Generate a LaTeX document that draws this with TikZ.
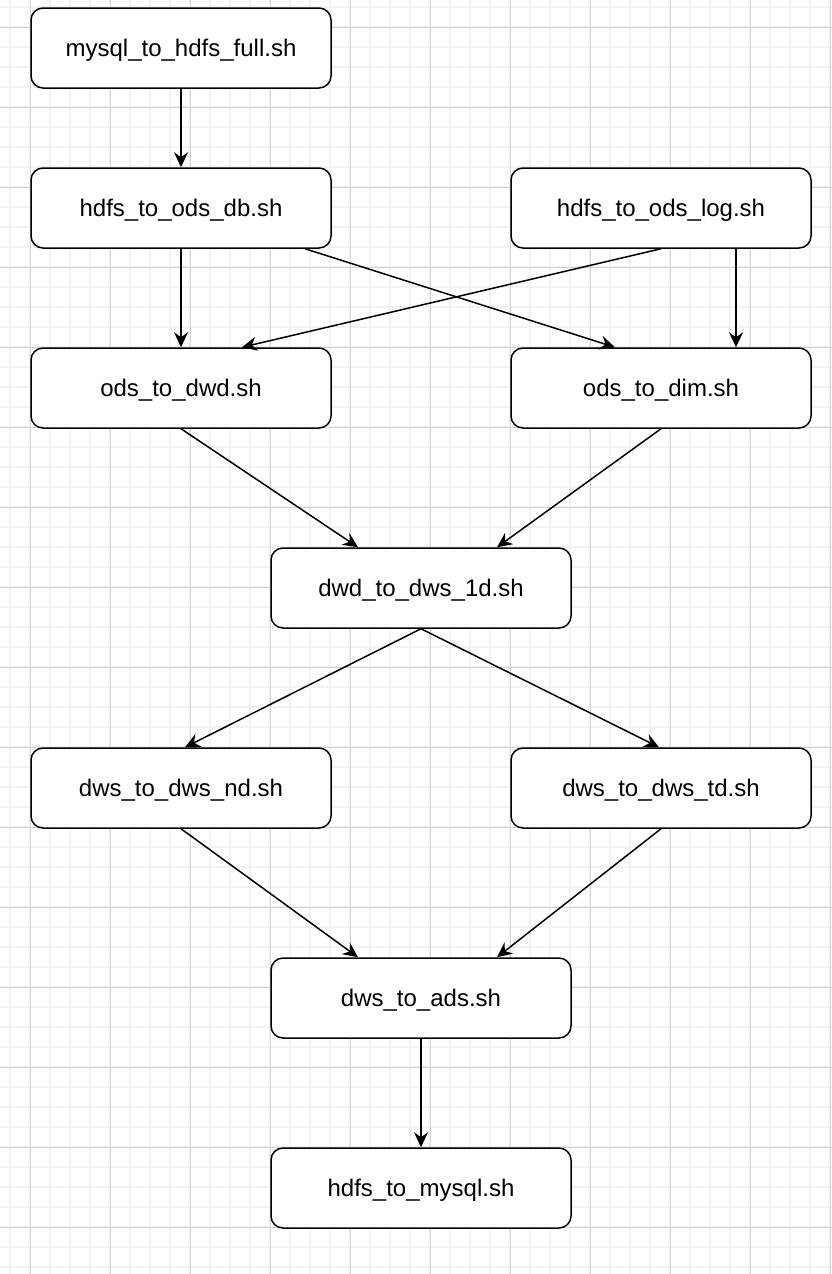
\documentclass[tikz,border=0pt]{standalone}
\usepackage{fontspec}
\setmainfont{Liberation Sans}
\usetikzlibrary{arrows.meta}
\definecolor{gridminor}{HTML}{F2F2F2}
\definecolor{gridmajor}{HTML}{D2D2D2}
\tikzset{
  job/.style={draw, line width=1.5pt, rounded corners=12pt, minimum width=300pt,
    minimum height=80pt, fill=white, inner sep=0pt, text depth=1pt,
    font=\fontsize{24}{28}\selectfont},
  flow/.style={-{Stealth[length=15pt,width=14pt,inset=5pt]}, line width=1.5pt},
}
\begin{document}
\begin{tikzpicture}[x=1pt,y=-1pt]
\useasboundingbox (0,0) rectangle (832,1274);
\fill[white] (0,0) rectangle (832,1274);
% background grid
\foreach \x in {10,30,...,830} \draw[gridminor, line width=1.7pt] (\x,0) -- (\x,1274);
\foreach \y in {7,27,...,1267} \draw[gridminor, line width=1.7pt] (0,\y) -- (832,\y);
\foreach \x in {30,110,...,830} \draw[gridmajor, line width=1pt] (\x,0) -- (\x,1274);
\foreach \y in {27,107,...,1267} \draw[gridmajor, line width=1pt] (0,\y) -- (832,\y);

% jobs
\node[job] (full) at (181,48)   {mysql\_to\_hdfs\_full.sh};
\node[job] (db)   at (181,208)  {hdfs\_to\_ods\_db.sh};
\node[job] (log)  at (661,208)  {hdfs\_to\_ods\_log.sh};
\node[job] (dwd)  at (181,388)  {ods\_to\_dwd.sh};
\node[job] (dim)  at (661,388)  {ods\_to\_dim.sh};
\node[job] (d1)   at (421,588)  {dwd\_to\_dws\_1d.sh};
\node[job] (nd)   at (181,788)  {dws\_to\_dws\_nd.sh};
\node[job] (td)   at (661,788)  {dws\_to\_dws\_td.sh};
\node[job] (ads)  at (421,998)  {dws\_to\_ads.sh};
\node[job] (out)  at (421,1188) {hdfs\_to\_mysql.sh};

% dependencies
\draw[flow] (full.south) -- (db.north);
\draw[flow] (db.south) -- (dwd.north);
\draw[flow] ([xshift=124pt]db.south) -- ([xshift=-46pt]dim.north);
\draw[flow] (log.south) -- ([xshift=61pt]dwd.north);
\draw[flow] ([xshift=75pt]log.south) -- ([xshift=75pt]dim.north);
\draw[flow] (dwd.south) -- ([xshift=-63pt]d1.north);
\draw[flow] (dim.south) -- ([xshift=76pt]d1.north);
\draw[flow] (d1.south) -- ([xshift=4pt]nd.north);
\draw[flow] (d1.south) -- ([xshift=-2pt]td.north);
\draw[flow] (nd.south) -- ([xshift=-63pt]ads.north);
\draw[flow] (td.south) -- ([xshift=76pt]ads.north);
\draw[flow] (ads.south) -- (out.north);
\end{tikzpicture}
\end{document}
